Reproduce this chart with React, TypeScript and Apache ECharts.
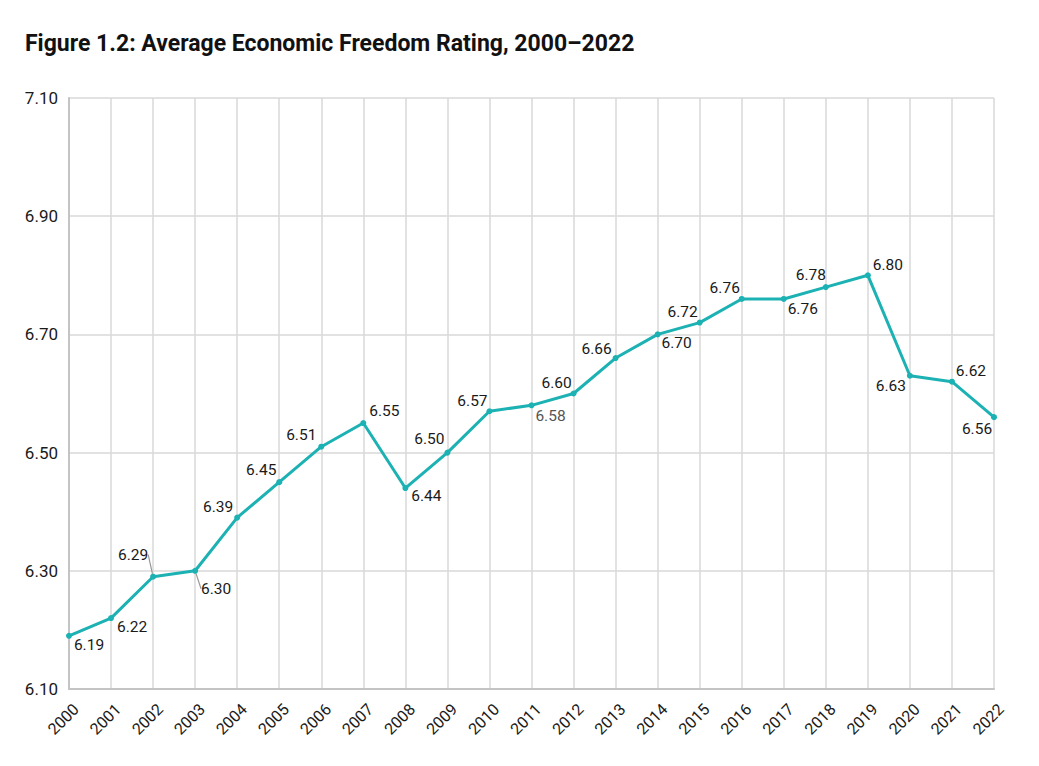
import React, { useEffect, useRef } from 'react';
import * as echarts from 'echarts';

type EChartsOption = echarts.EChartsOption;

const years = [
  '2000', '2001', '2002', '2003', '2004', '2005', '2006', '2007', '2008', '2009', '2010', '2011',
  '2012', '2013', '2014', '2015', '2016', '2017', '2018', '2019', '2020', '2021', '2022'
];

const ratings = [
  6.19, 6.22, 6.29, 6.30, 6.39, 6.45, 6.51, 6.55, 6.44, 6.50, 6.57, 6.58,
  6.60, 6.66, 6.70, 6.72, 6.76, 6.76, 6.78, 6.80, 6.63, 6.62, 6.56
];

// where each value label sits relative to its point (centre offset in px)
const labelOffsets: [number, number][] = [
  [20, 9], [21, 9], [-20, -22], [21, 18], [-19, -11], [-18, -12], [-20, -12], [21, -12],
  [21, 8], [-18, -14], [-17, -10], [19, 11], [-17, -11], [-19, -9], [19, 9], [-17, -11],
  [-17, -11], [19, 10], [-15, -12], [20, -10], [-19, 10], [19, -11], [-17, 12]
];
const guided = [2, 3];

const TEAL = '#1cb1b3';
const GRID = '#d9d9d9';
const FONT = 'Roboto, "DejaVu Sans", sans-serif';

const App: React.FC = () => {
  const chartRef = useRef<HTMLDivElement>(null);

  useEffect(() => {
    document.body.style.margin = '0';
    if (!chartRef.current) return;
    const myChart = echarts.init(chartRef.current, undefined, { renderer: 'svg' });

    const option: EChartsOption = {
      animation: false,
      backgroundColor: '#fff',
      title: {
        text: 'Figure 1.2: Average Economic Freedom Rating, 2000\u20132022',
        left: 20,
        top: 27,
        textStyle: { fontFamily: FONT, fontWeight: 'bold', fontSize: 23, color: '#111' }
      },
      grid: { left: 69, right: 45, top: 98, bottom: 77 },
      xAxis: {
        type: 'category',
        data: years,
        boundaryGap: false,
        axisLine: { lineStyle: { color: '#c4c4c4', width: 2 } },
        axisTick: { show: false },
        axisLabel: {
          rotate: 45,
          fontFamily: FONT,
          fontSize: 16,
          color: '#1a1a1a',
          margin: 2,
          verticalAlign: 'top',
          padding: [8, 6, 0, 0]
        },
        splitLine: { show: true, lineStyle: { color: GRID, width: 1.5 } }
      },
      yAxis: {
        type: 'value',
        min: 6.1,
        max: 7.1,
        interval: 0.2,
        axisLine: { show: true, lineStyle: { color: '#c4c4c4', width: 2 } },
        axisTick: { show: false },
        axisLabel: {
          fontFamily: FONT,
          fontSize: 17,
          color: '#1a1a1a',
          margin: 11,
          formatter: (v: number) => v.toFixed(2)
        },
        splitLine: { lineStyle: { color: GRID, width: 1.5 } }
      },
      series: [
        {
          type: 'line',
          data: ratings.map((v, i) => ({
            value: v,
            labelLine: { show: guided.includes(i), lineStyle: { color: '#999', width: 1.2 } },
            label: i === 11 ? { color: '#555' } : undefined
          })),
          lineStyle: { color: TEAL, width: 3 },
          itemStyle: { color: TEAL },
          symbol: 'circle',
          symbolSize: 6,
          label: {
            show: true,
            position: 'inside',
            fontFamily: FONT,
            fontSize: 15.5,
            color: '#1a1a1a',
            formatter: (p: any) => Number(p.value).toFixed(2)
          },
          labelLayout: (p: any) => {
            const [dx, dy] = labelOffsets[p.dataIndex];
            return { dx, dy };
          }
        }
      ]
    };

    myChart.setOption(option);
    return () => {
      myChart.dispose();
    };
  }, []);

  return <div ref={chartRef} style={{ width: '1039px', height: '766px' }} />;
};

export default App;
